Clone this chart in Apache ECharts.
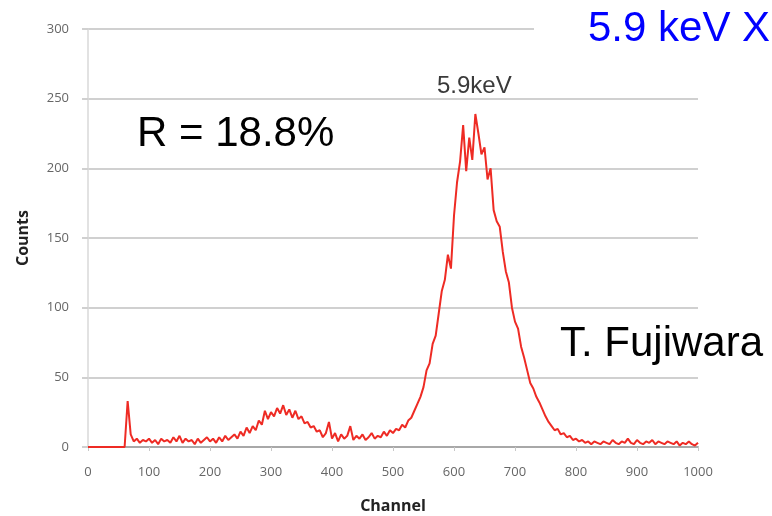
<!DOCTYPE html>
<html>
<head>
<meta charset="utf-8">
<script src="https://cdn.jsdelivr.net/npm/echarts@6/dist/echarts.min.js"></script>
<style>
  html, body { margin: 0; padding: 0; background: #fff; }
  #curve { width: 772px; height: 516px; }
</style>
</head>
<body>
<div id="curve"></div>
<script>
// channel axis: one point every 5 channels
var channels = [];
for (var c = 0; c <= 1000; c += 5) channels.push(c);

// counts, one row per 100 channels
var counts = [
    0, 0, 0, 0, 0, 0, 0, 0, 0, 0, 0, 0, 0, 33, 9, 4, 6, 3, 5, 4,
    6, 3, 5, 2, 6, 4, 5, 3, 7, 4, 8, 3, 6, 4, 5, 2, 6, 3, 5, 7,
    4, 6, 3, 7, 4, 8, 5, 7, 9, 6, 11, 8, 14, 10, 15, 12, 19, 16, 26, 20,
    25, 22, 28, 24, 30, 23, 27, 21, 26, 20, 22, 17, 18, 14, 15, 11, 12, 7, 10, 18,
    6, 10, 4, 9, 6, 8, 15, 5, 8, 6, 9, 5, 7, 10, 6, 8, 7, 11, 8, 12,
    10, 13, 12, 16, 14, 19, 21, 26, 31, 36, 43, 55, 60, 74, 80, 96, 112, 120, 138, 128,
    166, 190, 205, 231, 198, 222, 206, 239, 225, 210, 215, 192, 200, 170, 162, 158, 140, 126, 118, 100,
    90, 85, 72, 64, 55, 46, 42, 36, 32, 27, 22, 18, 15, 12, 13, 9, 10, 7, 8, 5,
    6, 4, 5, 3, 4, 2, 4, 3, 2, 4, 3, 2, 5, 3, 2, 4, 3, 6, 3, 2,
    5, 3, 2, 4, 3, 5, 2, 4, 3, 2, 4, 3, 2, 4, 1, 3, 2, 4, 2, 1,
    3
];

var xTicks = { min: 0, max: 1000, step: 100 };
var yTicks = { min: 0, max: 300, step: 50 };

var points = channels.map(function (ch, i) { return [ch, counts[i]]; });

var myChart = echarts.init(document.getElementById('curve'));
var option = {
    animation: false,
    backgroundColor: '#fff',
    grid: {
        left: 88,
        right: 74,
        top: 29,
        bottom: 69,
        outerBoundsMode: 'none'
    },
    xAxis: {
        type: 'value',
        min: xTicks.min,
        max: xTicks.max,
        interval: xTicks.step,
        name: 'Channel',
        nameLocation: 'middle',
        nameGap: 51,
        nameTextStyle: { fontFamily: 'Open Sans', fontWeight: 'bold', fontSize: 16, color: '#222' },
        axisLine: { show: true, lineStyle: { color: '#a8a8a8', width: 2 } },
        axisTick: { show: true, length: 4, lineStyle: { color: '#c8c8c8' } },
        axisLabel: {
            fontFamily: 'Open Sans', fontSize: 13, color: '#666', margin: 19,
            formatter: function (v) { return String(v); }
        },
        splitLine: { show: false }
    },
    yAxis: {
        type: 'value',
        min: yTicks.min,
        max: yTicks.max,
        interval: yTicks.step,
        name: 'Counts',
        nameLocation: 'middle',
        nameGap: 57,
        nameTextStyle: { fontFamily: 'Open Sans', fontWeight: 'bold', fontSize: 16, color: '#222' },
        axisLine: { show: true, lineStyle: { color: '#d8d8d8', width: 1.5 } },
        axisTick: { show: true, length: 6, lineStyle: { color: '#d0d0d0', width: 2 } },
        axisLabel: { fontFamily: 'Open Sans', fontSize: 13, color: '#666', margin: 19 },
        splitLine: { show: true, lineStyle: { color: '#d0d0d0', width: 2 } }
    },
    graphic: [
        // white box behind the slide title, hides the end of the top gridline
        { type: 'rect', z: 100, shape: { x: 534, y: 0, width: 238, height: 56 }, style: { fill: '#fff' } },
        { type: 'text', z: 101, x: 588, y: 29.5, style: { text: '5.9 keV X', font: '42px "Liberation Sans"', fill: '#0000ff', align: 'left', verticalAlign: 'middle' } },
        { type: 'text', z: 101, x: 137, y: 134.5, style: { text: 'R = 18.8%', font: '42px "Liberation Sans"', fill: '#000', align: 'left', verticalAlign: 'middle' } },
        { type: 'text', z: 101, x: 560, y: 344, style: { text: 'T. Fujiwara', font: '42px "Liberation Sans"', fill: '#000', align: 'left', verticalAlign: 'middle' } },
        { type: 'text', z: 101, x: 437, y: 86, style: { text: '5.9keV', font: '24px "Liberation Sans"', fill: '#3a3a3a', align: 'left', verticalAlign: 'middle' } }
    ],
    series: [
        {
            type: 'line',
            data: points,
            showSymbol: false,
            smooth: false,
            lineStyle: { color: '#ee2b24', width: 2 }
        }
    ]
};
myChart.setOption(option);
</script>
</body>
</html>
